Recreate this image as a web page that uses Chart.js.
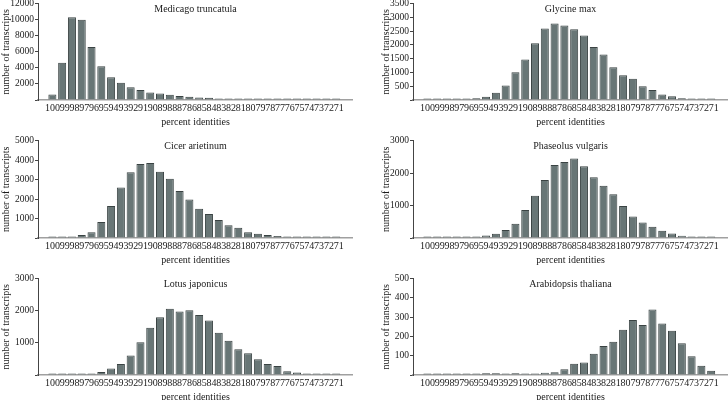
<!DOCTYPE html>
<html><head><meta charset="utf-8">
<script src="https://cdn.jsdelivr.net/npm/chart.js@4/dist/chart.umd.min.js"></script>
<style>
html,body{margin:0;padding:0;background:#fff;width:728px;height:400px;overflow:hidden;position:relative;}
canvas{position:absolute;display:block;}
</style></head><body>
<canvas id="c0"></canvas><canvas id="c1"></canvas><canvas id="c2"></canvas>
<canvas id="c3"></canvas><canvas id="c4"></canvas><canvas id="c5"></canvas>
<script>
const categories = [100,99,98,97,96,95,94,93,92,91,90,89,88,87,86,85,84,83,82,81,80,79,78,77,76,75,74,73,72,71];

const medicago   = [700,4650,10300,10000,6600,4200,2850,2150,1600,1250,950,800,650,500,400,300,280,200,170,130,100,90,70,60,50,40,40,30,30,20];
const glycine    = [15,15,15,25,30,60,120,260,530,1010,1470,2060,2600,2780,2710,2570,2340,1930,1650,1190,900,770,500,360,200,140,60,25,20,15];
const cicer      = [20,25,60,150,300,820,1640,2600,3380,3800,3850,3400,3050,2420,1980,1500,1230,920,650,530,300,220,150,100,60,50,30,20,15,10];
const phaseolus  = [15,15,15,20,30,45,75,130,250,440,860,1300,1790,2250,2340,2450,2210,1870,1610,1350,990,660,480,350,220,140,70,40,15,15];
const lotus      = [20,20,20,20,40,90,200,340,610,1020,1470,1800,2060,1980,2020,1870,1700,1320,1070,800,680,490,340,280,120,80,50,20,15,5];
const arabidopsis= [1,1,3,3,3,4,9,9,8,9,6,7,12,14,30,58,65,110,150,172,235,285,260,340,268,230,165,97,48,22];

const panelTitles = ['Medicago truncatula','Glycine max','Cicer arietinum','Phaseolus vulgaris','Lotus japonicus','Arabidopsis thaliana'];
const panelValues = [medicago, glycine, cicer, phaseolus, lotus, arabidopsis];
const yMaxes  = [12000, 3500, 5000, 3000, 3000, 500];
const ySteps  = [2000, 500, 1000, 1000, 1000, 100];
const xTitle = 'percent identities';
const yTitle = 'number of transcripts';

const FONT = '"Liberation Serif", "Times New Roman", serif';
const TXT = '#1a1a1a';

const panelTitle = {
  id: 'panelTitle',
  afterDraw(chart, args, opts) {
    const {ctx, chartArea} = chart;
    ctx.save();
    ctx.font = '10px ' + FONT;
    ctx.fillStyle = TXT;
    ctx.textAlign = 'center';
    ctx.textBaseline = 'middle';
    ctx.fillText(opts.text, (chartArea.left + chartArea.right) / 2, chartArea.top + 6);
    ctx.restore();
  }
};

// layout: [left, top, width, height, yAxisWidth]
const boxes = [
  [0, -3, 353, 131, 38],
  [380, -3, 348, 131, 33],
  [0, 134, 353, 132, 38],
  [380, 134, 348, 132, 33],
  [0, 272, 353, 131, 38],
  [380, 272, 348, 131, 33]
];

panelValues.forEach((vals, i) => {
  const cv = document.getElementById('c' + i);
  const [l, t, w, h, yw] = boxes[i];
  cv.style.left = l + 'px'; cv.style.top = t + 'px';
  cv.width = w; cv.height = h;
  new Chart(cv, {
    type: 'bar',
    data: {
      datasets: [{
        data: categories.map((c, k) => ({x: c, y: vals[k]})),
        backgroundColor: '#687676',
        borderColor: '#3a4343',
        borderWidth: 1,
        minBarLength: 1.5,
        barPercentage: 1,
        categoryPercentage: 0.82
      }]
    },
    options: {
      responsive: false,
      animation: false,
      devicePixelRatio: 1,
      layout: {padding: {left: 0, right: 0, top: 0, bottom: 0}},
      plugins: {legend: {display: false}, tooltip: {enabled: false}, panelTitle: {text: panelTitles[i]}},
      scales: {
        x: {
          type: 'linear', reverse: true, min: 69.8, max: 100.95,
          afterBuildTicks: s => { s.ticks.forEach(t => { if (t.value === 100) t.value = 100.25; }); },
          ticks: {
            stepSize: 1, autoSkip: false, maxRotation: 0, minRotation: 0, maxTicksLimit: 100, includeBounds: false,
            padding: 2, labelOffset: 2.5, color: TXT, font: {family: FONT, size: 10},
            callback: v => { const r = Math.round(v); return (Math.abs(v - r) < 0.3 && r >= 71 && r <= 100) ? String(r) : ''; }
          },
          grid: {display: false, drawTicks: false},
          border: {display: true, color: '#a0a0a0', width: 1.5},
          title: {display: true, text: xTitle, color: TXT, font: {family: FONT, size: 10}, padding: {top: 0, bottom: 0}}
        },
        y: {
          min: 0, max: yMaxes[i],
          afterFit: s => { s.width = yw; },
          ticks: {stepSize: ySteps[i], autoSkip: false, padding: 1, color: TXT, font: {family: FONT, size: 9.5},
            callback: v => v === 0 ? '' : String(v)},
          grid: {display: true, drawOnChartArea: false, drawTicks: true, tickLength: 3, color: '#444'},
          border: {display: true, color: '#444', width: 1},
          title: {display: true, text: yTitle, color: TXT, font: {family: FONT, size: 10, lineHeight: 1.2}, padding: {top: 0, bottom: 0}}
        }
      }
    },
    plugins: [panelTitle]
  });
});
</script>
</body></html>
